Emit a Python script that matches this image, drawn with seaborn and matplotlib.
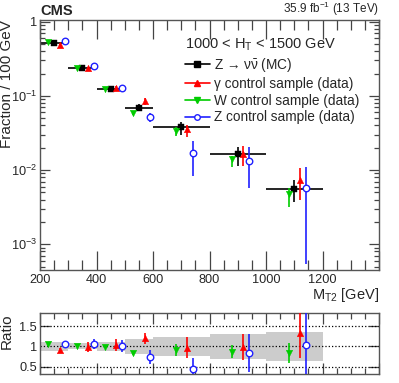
import numpy as np
import pandas as pd
import seaborn as sns
import matplotlib.pyplot as plt
from matplotlib.lines import Line2D
from matplotlib.ticker import FixedLocator, MultipleLocator, NullFormatter

# bins in MT2
bin_lo = [200, 300, 400, 500, 600, 800, 1000]
bin_hi = [300, 400, 500, 600, 800, 1000, 1200]

# Z -> nunu (MC)
mc = [0.515, 0.237, 0.123, 0.0695, 0.0378, 0.0163, 0.00553]
mc_lo = [0.50, 0.229, 0.118, 0.0616, 0.0297, 0.0114, 0.00366]
mc_hi = [0.53, 0.245, 0.128, 0.078, 0.045, 0.0206, 0.00733]

# gamma control sample
gam = [0.49, 0.237, 0.127, 0.0856, 0.0356, 0.0163, 0.0073]
gam_lo = [0.47, 0.226, 0.120, 0.0745, 0.0282, 0.0114, 0.0040]
gam_hi = [0.51, 0.248, 0.134, 0.094, 0.0406, 0.0210, 0.0107]

# W control sample
wcs = [0.54, 0.241, 0.123, 0.058, 0.034, 0.0141, 0.00474]
wcs_lo = [0.53, 0.236, 0.120, 0.0555, 0.0288, 0.0111, 0.00319]
wcs_hi = [0.55, 0.246, 0.126, 0.0605, 0.0378, 0.0156, 0.00566]

# Z control sample
zcs = [0.55, 0.249, 0.126, 0.0515, 0.0168, 0.0132, 0.00577]
zcs_lo = [0.535, 0.238, 0.119, 0.045, 0.0083, 0.00577, 0.00055]
zcs_hi = [0.565, 0.260, 0.133, 0.058, 0.0249, 0.0206, 0.0111]

# ratios to MC
r_gam = [0.91, 0.99, 1.03, 1.20, 0.97, 0.99, 1.32]
r_gam_err = [0.06, 0.13, 0.14, 0.14, 0.25, 0.32, 0.60]
r_wcs = [1.05, 1.01, 0.98, 0.84, 0.91, 0.87, 0.84]
r_wcs_err = [0.04, 0.03, 0.03, 0.04, 0.15, 0.16, 0.24]
r_zcs = [1.05, 1.05, 1.01, 0.74, 0.44, 0.83, 1.03]
r_zcs_err = [0.05, 0.12, 0.14, 0.17, 0.28, 0.47, 1.2]
band_lo = [0.89, 0.93, 0.88, 0.82, 0.76, 0.70, 0.65]
band_hi = [1.12, 1.08, 1.10, 1.18, 1.23, 1.30, 1.35]

sns.set_style('ticks')
plt.rcParams['font.family'] = ['Liberation Sans', 'DejaVu Sans']
plt.rcParams['mathtext.fontset'] = 'custom'
plt.rcParams['mathtext.rm'] = 'Liberation Sans'
plt.rcParams['mathtext.it'] = 'Liberation Sans'

lo = np.array(bin_lo)
hi = np.array(bin_hi)
cen = (lo + hi) / 2
half = (hi - lo) / 2

fig = plt.figure(figsize=(3.99, 3.83), dpi=100)
ax = fig.add_axes([0.1003, 0.295, 0.8496, 0.6525])
rax = fig.add_axes([0.1003, 0.0235, 0.8496, 0.158])

series = [
    ('Z \u2192 \u03bd$\\bar{\\nu}$ (MC)', mc, mc_lo, mc_hi, 0, 'black', 's', 'full'),
    ('\u03b3 control sample (data)', gam, gam_lo, gam_hi, 20, 'red', '^', 'full'),
    ('W control sample (data)', wcs, wcs_lo, wcs_hi, -20, '#00cc00', 'v', 'full'),
    ('Z control sample (data)', zcs, zcs_lo, zcs_hi, 40, '#2020ff', 'o', 'none'),
]

handles = []
for label, val, vlo, vhi, off, col, mk, fill in series:
    val = np.array(val)
    yerr = [val - np.array(vlo), np.array(vhi) - val]
    xerr = half if off == 0 else None
    ax.errorbar(cen + off, val, yerr=yerr, xerr=xerr, fmt='none', ecolor=col,
                elinewidth=1.2, capsize=0, zorder=2)
    df = pd.DataFrame({'x': cen + off, 'y': val})
    if fill == 'none':
        sns.scatterplot(data=df, x='x', y='y', ax=ax, marker=mk, s=22,
                        facecolors='white', edgecolor=col, linewidth=1.0, zorder=3)
    else:
        sns.scatterplot(data=df, x='x', y='y', ax=ax, marker=mk, s=22,
                        color=col, edgecolor=col, linewidth=0.3, zorder=3)
    h = Line2D([], [], color=col, lw=1.2, marker=mk, ms=4,
               mfc='white' if fill == 'none' else col, mec=col, mew=1.0)
    handles.append((h, label))

ax.set_yscale('log')
ax.set_xlim(200, 1400)
ax.set_ylim(4.5e-4, 1.05)
ax.yaxis.set_major_locator(FixedLocator([1e-3, 1e-2, 1e-1, 1]))
ax.set_yticklabels(['$10^{-3}$', '$10^{-2}$', '$10^{-1}$', '1'])
ax.yaxis.set_minor_locator(FixedLocator(
    [m * 10.0 ** e for e in range(-4, 1) for m in range(2, 10)]))
ax.yaxis.set_minor_formatter(NullFormatter())
ax.xaxis.set_major_locator(FixedLocator([200, 400, 600, 800, 1000, 1200, 1400]))
ax.set_xticklabels(['200', '400', '600', '800', '1000', '1200', ''])
ax.xaxis.set_minor_locator(MultipleLocator(50))
ax.set_xlabel('M$_{\\rm T2}$ [GeV]', loc='right', fontsize=10.5, labelpad=0)
ax.set_ylabel('Fraction / 100 GeV', loc='top', fontsize=11)
ax.yaxis.set_label_coords(-0.078, 1.0)

leg = ax.legend([h for h, _ in handles], [l for _, l in handles],
                title='1000 < H$_{\\rm T}$ < 1500 GeV', loc='upper left',
                bbox_to_anchor=(185 / 399, 1 - 37 / 383),
                bbox_transform=fig.transFigure, frameon=False, fontsize=9.8,
                title_fontsize=10.5, handlelength=1.8, handletextpad=0.3,
                labelspacing=0.2, borderpad=0, borderaxespad=0,
                alignment='left')

# ratio panel
for r, rerr, off, col, mk, fill in [
        (r_gam, r_gam_err, 20, 'red', '^', 'full'),
        (r_wcs, r_wcs_err, -20, '#00cc00', 'v', 'full'),
        (r_zcs, r_zcs_err, 40, '#2020ff', 'o', 'none')]:
    rax.errorbar(cen + off, r, yerr=rerr, fmt='none', ecolor=col,
                 elinewidth=1.2, capsize=0, zorder=3)
    df = pd.DataFrame({'x': cen + off, 'y': r})
    if fill == 'none':
        sns.scatterplot(data=df, x='x', y='y', ax=rax, marker=mk, s=22,
                        facecolors='white', edgecolor=col, linewidth=1.0, zorder=4)
    else:
        sns.scatterplot(data=df, x='x', y='y', ax=rax, marker=mk, s=22,
                        color=col, edgecolor=col, linewidth=0.3, zorder=4)

rax.bar(cen, np.array(band_hi) - np.array(band_lo), bottom=band_lo, width=hi - lo,
        color='#cccccc', linewidth=0, zorder=1)
for yv in [0.5, 1.0, 1.5]:
    rax.axhline(yv, color='black', ls=':', lw=0.9, zorder=2)
rax.set_xlim(200, 1400)
rax.set_ylim(0.32, 1.81)
rax.set_yticks([0.5, 1, 1.5])
rax.set_yticklabels(['0.5', '1', '1.5'])
rax.xaxis.set_major_locator(MultipleLocator(200))
rax.xaxis.set_minor_locator(MultipleLocator(50))
rax.set_xticklabels([])
rax.set_xlabel('')
rax.set_ylabel('Ratio', loc='top', fontsize=11)
rax.yaxis.set_label_coords(-0.078, 1.0)

for a, maj, mnr in [(ax, 14, 7), (rax, 8, 4)]:
    a.tick_params(which='both', direction='in', top=True, right=True,
                  labelsize=9.2, color='#444444', width=0.9, pad=3)
    a.tick_params(which='major', length=maj)
    a.tick_params(which='minor', length=mnr)
    for s in a.spines.values():
        s.set_color('#555555')
        s.set_linewidth(1.0)
ax.tick_params(axis='y', which='major', length=7, pad=2)
ax.tick_params(axis='y', which='minor', length=3.5)
rax.tick_params(axis='y', which='major', length=7, pad=2)
rax.tick_params(axis='y', which='minor', length=0)

fig.text(0.1003, 0.953, 'CMS', fontsize=10.5, fontweight='bold', ha='left', va='bottom')
fig.text(0.95, 0.953, '35.9 fb$^{-1}$ (13 TeV)', fontsize=8.5, ha='right', va='bottom')

fig.savefig('out.png', dpi=100)
